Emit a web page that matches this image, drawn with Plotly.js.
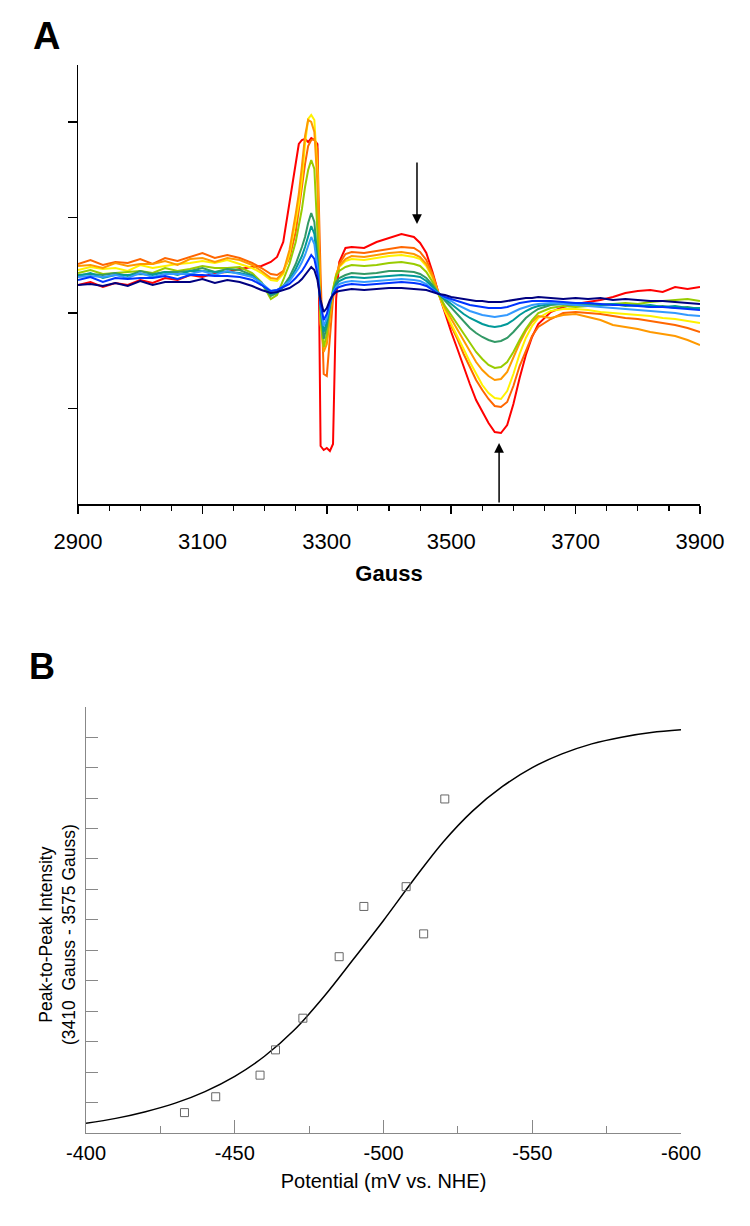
<!DOCTYPE html>
<html>
<head>
<meta charset="utf-8">
<script src="https://cdn.plot.ly/plotly-3.0.1.min.js"></script>
<style>html,body{margin:0;padding:0;background:#fff;}#chart{width:750px;height:1226px;}</style>
</head>
<body>
<div id="chart"></div>
<script>
// ---------- Panel A: EPR spectra (field in Gauss, intensity in arbitrary units) ----------
const gauss = [2900,2920,2940,2960,2980,3000,3020,3040,3060,3080,3100,3120,3140,3160,3180,3195,3210,3220,3230,3240,3250,3255,3260,3265,3270,3275,3280,3285,3290,3295,3300,3305,3310,3315,3320,3330,3340,3360,3380,3400,3420,3440,3450,3460,3470,3480,3490,3500,3510,3520,3530,3540,3550,3560,3570,3580,3590,3600,3610,3620,3630,3640,3660,3680,3700,3720,3740,3760,3780,3800,3820,3840,3860,3880,3900];

const specRed = [219,222,217,221,219,224,221,226,224,229,227,231,232,235,237,238,242,247,262,303,340,360,364,365,362,366,364,360,58,54,56,53,60,205,242,256,257,256,262,266,270,267,261,251,232,210,190,172,155,137,120,104,92,81,72,71,79,100,126,149,167,180,192,197,200,202,204,207,211,213,214,212,217,215,217];
const specOrangeRed = [240,244,239,242,241,245,240,246,243,247,251,246,249,246,241,236,230,229,233,246,272,294,318,340,358,364,365,355,230,130,128,168,205,226,240,250,252,251,253,255,257,256,252,244,230,210,193,178,165,150,137,124,114,105,98,97,102,118,138,154,168,177,185,191,192,191,190,188,186,185,183,181,179,176,172];
const specYellow = [234,237,235,236,233,239,236,238,240,241,243,241,244,240,236,231,224,223,230,250,282,300,325,360,385,389,384,330,180,157,162,190,214,230,237,243,245,244,246,248,249,247,245,238,226,209,193,180,168,155,142,130,119,111,106,105,113,130,150,166,178,186,193,195,195,194,192,191,190,189,188,186,185,183,181];
const specOrange = [238,239,236,241,238,240,240,243,239,245,246,242,246,244,239,233,226,225,232,254,290,310,338,368,384,382,372,320,185,152,160,188,212,229,238,245,248,247,249,251,252,250,247,240,228,210,196,185,175,163,152,142,134,128,124,125,132,146,161,173,182,188,186,189,190,187,184,179,177,175,172,170,168,164,159];
const specYellowGreen = [231,234,230,231,232,233,231,236,233,235,238,236,236,237,231,222,205,209,224,240,262,277,295,317,334,344,335,270,185,157,170,195,215,228,233,237,239,238,239,241,242,240,238,232,222,209,198,189,180,171,161,152,145,139,136,137,142,152,164,175,184,191,196,198,197,198,199,200,201,200,202,203,204,205,203];
const specGreen = [229,230,229,231,228,233,230,232,232,233,236,232,235,234,229,220,208,211,218,227,240,248,257,267,281,291,282,245,195,165,178,198,213,222,226,229,231,230,231,233,233,232,230,226,219,210,203,196,189,182,176,171,167,164,162,163,166,172,179,186,191,195,199,200,199,200,199,200,198,199,197,198,196,197,195];
const specTeal = [228,231,226,229,229,230,229,232,229,233,233,232,232,231,228,221,210,212,217,224,235,241,248,257,268,278,270,240,196,172,182,200,212,220,223,226,227,226,227,228,229,228,227,223,217,210,205,200,195,190,186,183,180,178,177,178,180,184,189,193,196,198,200,201,200,201,199,200,199,198,199,197,198,196,196];
const specLightBlue = [227,228,227,229,226,231,227,230,230,230,233,229,233,230,227,221,213,214,218,223,231,236,242,249,258,267,260,236,199,178,186,201,211,217,220,222,223,222,223,224,225,224,223,220,215,210,206,203,199,196,193,191,189,188,187,188,189,192,195,197,199,200,201,200,199,198,197,196,195,194,193,192,191,189,188];
const specBlue = [224,227,222,226,225,226,226,228,225,229,229,228,228,227,224,219,213,214,217,220,226,229,233,238,244,249,245,230,200,184,190,202,210,215,217,219,220,219,220,221,222,221,220,218,214,210,207,205,203,201,199,198,197,196,196,196,197,199,201,202,203,203,203,202,201,201,200,199,199,198,197,197,196,195,194];
const specNavy = [219,220,218,221,218,223,219,222,222,222,225,221,224,222,218,214,211,212,214,216,220,222,225,229,233,237,234,224,204,192,196,204,209,212,213,214,215,214,215,216,216,215,215,214,212,210,209,207,206,205,204,203,203,202,202,202,203,204,205,206,206,207,206,205,206,205,206,204,205,204,203,203,202,201,200];

const spectraSeries = [specRed, specOrangeRed, specYellow, specOrange, specYellowGreen, specGreen, specTeal, specLightBlue, specBlue, specNavy];
const spectraColors = ['#FF0000','#FF6600','#FFF200','#FF9900','#99CC00','#339966','#009999','#3399FF','#0033FF','#000080'];

const gaussTicks = [2900,3100,3300,3500,3700,3900];
const intensityTicksA = [95.5,191,286.5,382];
const arrowDownField = 3445;
const arrowUpField = 3577;

// ---------- Panel B: titration ----------
const potential = [-433.1,-443.6,-458.5,-463.7,-472.9,-485.1,-493.4,-507.6,-513.5,-520.6];
const peakIntensity = [0.67,1.19,1.90,2.73,3.77,5.79,7.44,8.09,6.54,10.97];
const fitPotential = [-400,-410,-420,-430,-440,-450,-460,-470,-480,-490,-500,-510,-520,-530,-540,-550,-560,-570,-580,-590,-600];
const fitIntensity = [0.32,0.48,0.70,0.98,1.36,1.86,2.52,3.38,4.48,5.72,6.98,8.30,9.55,10.58,11.38,12.00,12.45,12.78,13.00,13.15,13.24];
const potentialTicks = [-400,-450,-500,-550,-600];

const W = 750, H = 1226;
const px = v => v / W;
const py = v => 1 - v / H;

const traces = spectraSeries.map((ys, i) => ({
  type: 'scatter', mode: 'lines', x: gauss, y: ys, xaxis: 'x', yaxis: 'y',
  line: {color: spectraColors[i], width: 2}, hoverinfo: 'skip'
}));
traces.push({
  type: 'scatter', mode: 'lines', x: fitPotential, y: fitIntensity, xaxis: 'x2', yaxis: 'y2',
  line: {color: '#000', width: 1.5, shape: 'spline', smoothing: 1}, hoverinfo: 'skip'
});
traces.push({
  type: 'scatter', mode: 'markers', x: potential, y: peakIntensity, xaxis: 'x2', yaxis: 'y2',
  marker: {symbol: 'square-open', size: 8, color: '#666', line: {width: 1, color: '#666'}}, hoverinfo: 'skip'
});

const font = 'Liberation Sans, Arial, Helvetica, sans-serif';

const layout = {
  width: W, height: H,
  margin: {l: 0, r: 0, t: 0, b: 0},
  paper_bgcolor: '#fff', plot_bgcolor: '#fff',
  showlegend: false,
  font: {family: font, color: '#000'},
  xaxis: {
    domain: [px(78), px(700)], range: [2900, 3900], anchor: 'y',
    tickmode: 'array', tickvals: gaussTicks, ticktext: gaussTicks.map(String),
    ticks: 'outside', ticklen: 8, tickwidth: 1.5, tickcolor: '#000',
    minor: {tickmode: 'linear', tick0: 2900, dtick: 50, ticks: 'outside', ticklen: 5, tickwidth: 1.2, tickcolor: '#000', showgrid: false},
    showline: true, linecolor: '#000', linewidth: 1.5, showgrid: false, zeroline: false,
    tickfont: {size: 22, family: font, color: '#000'}, ticklabelstandoff: 9,
    title: {text: '<b>Gauss</b>', font: {size: 22, family: font, color: '#000'}, standoff: 12}
  },
  yaxis: {
    domain: [py(504), py(65)], range: [0, 439], anchor: 'x',
    tickmode: 'array', tickvals: intensityTicksA, showticklabels: false,
    ticks: 'outside', ticklen: 9, tickwidth: 1.5, tickcolor: '#000',
    showline: true, linecolor: '#000', linewidth: 1.5, showgrid: false, zeroline: false
  },
  xaxis2: {
    domain: [px(86), px(681)], range: [-400, -600], anchor: 'y2',
    tickmode: 'array', tickvals: potentialTicks, ticktext: potentialTicks.map(v => '-' + Math.abs(v)),
    ticks: 'inside', ticklen: 13, tickwidth: 1, tickcolor: '#888',
    minor: {tickmode: 'linear', tick0: -400, dtick: 25, ticks: 'inside', ticklen: 7, tickwidth: 1, tickcolor: '#888', showgrid: false},
    showline: true, linecolor: '#888', linewidth: 1, showgrid: false, zeroline: false,
    tickfont: {size: 20, family: font, color: '#000'}, ticklabelstandoff: 2,
    title: {text: 'Potential (mV vs. NHE)', font: {size: 20, family: font, color: '#000'}, standoff: 10}
  },
  yaxis2: {
    domain: [py(1133), py(706.7)], range: [0, 14], anchor: 'x2',
    tickmode: 'linear', tick0: 0, dtick: 1, showticklabels: false,
    ticks: 'inside', ticklen: 12, tickwidth: 1, tickcolor: '#888',
    showline: true, linecolor: '#888', linewidth: 1, showgrid: false, zeroline: false
  },
  annotations: [
    {xref: 'paper', yref: 'paper', x: px(46), y: py(36), text: '<b>A</b>', showarrow: false, xanchor: 'center', yanchor: 'middle', font: {size: 38, family: font, color: '#000'}},
    {xref: 'paper', yref: 'paper', x: px(42), y: py(666), text: '<b>B</b>', showarrow: false, xanchor: 'center', yanchor: 'middle', font: {size: 36, family: font, color: '#000'}},
    {xref: 'paper', yref: 'paper', x: px(57), y: py(935), text: 'Peak-to-Peak Intensity<br>(3410\u00a0 Gauss - 3575 Gauss)', textangle: -90, showarrow: false, xanchor: 'center', yanchor: 'middle', font: {size: 17.5, family: font, color: '#000'}},
    {xref: 'x', yref: 'y', x: arrowDownField, y: 280, axref: 'x', ayref: 'y', ax: arrowDownField, ay: 343, text: '', showarrow: true, arrowhead: 2, arrowsize: 1.3, arrowwidth: 1.5, arrowcolor: '#000'},
    {xref: 'x', yref: 'y', x: arrowUpField, y: 61, axref: 'x', ayref: 'y', ax: arrowUpField, ay: 0, text: '', showarrow: true, arrowhead: 2, arrowsize: 1.3, arrowwidth: 1.5, arrowcolor: '#000'}
  ]
};

Plotly.newPlot('chart', traces, layout, {displayModeBar: false, staticPlot: true});
</script>
</body>
</html>
